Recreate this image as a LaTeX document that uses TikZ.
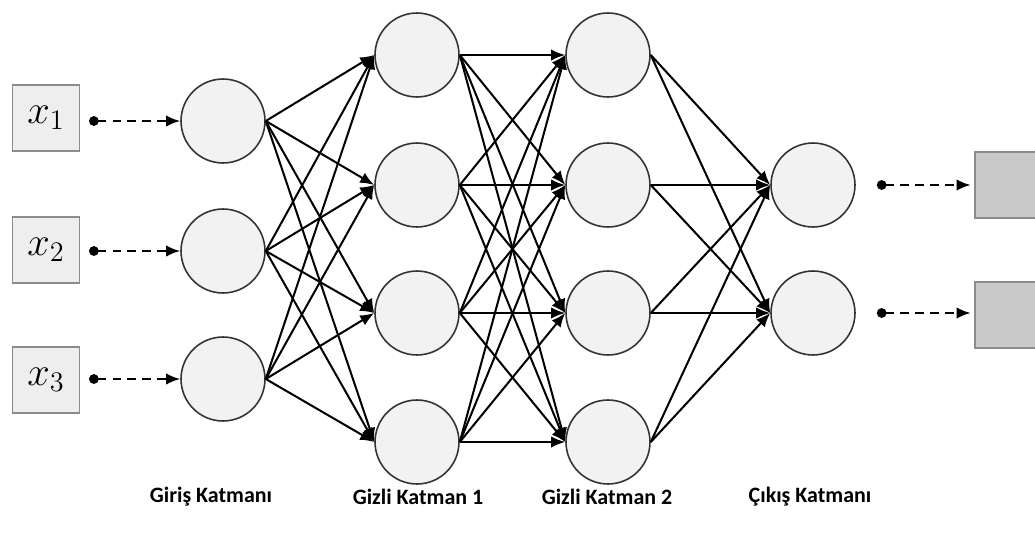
\RequirePackage{fix-cm}
\documentclass[tikz,border=0pt]{standalone}
\usepackage[no-math]{fontspec}
\setmainfont{Carlito}
\usepackage{amsmath}
\usepackage{tikz}
\usetikzlibrary{shapes,arrows.meta,positioning}

\definecolor{nfill}{HTML}{F2F2F2}
\definecolor{inbg}{HTML}{EEEEEE}
\definecolor{outbg}{HTML}{C9C9C9}
\definecolor{boxline}{HTML}{8C8C8C}

\tikzset{
  neuron/.style={circle, draw=black!80, line width=0.9pt, fill=nfill, minimum size=1.68cm, inner sep=0pt},
  inbox/.style={rectangle, draw=boxline, line width=0.9pt, fill=inbg, minimum width=1.34cm, minimum height=1.32cm, inner sep=0pt, font=\fontsize{23}{26}\selectfont},
  outbox/.style={rectangle, draw=boxline, line width=0.9pt, fill=outbg, minimum width=1.6cm, minimum height=1.32cm, inner sep=0pt},
  conn/.style={-{Latex[length=8pt,width=6.5pt]}, line width=1.15pt},
  feed/.style={{Circle[length=5.5pt]}-{Latex[length=8pt,width=6.5pt]}, dash pattern=on 5pt off 3.5pt, line width=1.3pt},
  layername/.style={font=\bfseries\fontsize{12.5}{14}\selectfont}
}

\begin{document}
\begin{tikzpicture}[x=0.02cm, y=-0.02cm]
            \useasboundingbox (0,0) rectangle (1035,534);

            % inputs
            \node[inbox] (x1) at (46,118) {$x_1$};
            \node[inbox] (x2) at (46,250) {$x_2$};
            \node[inbox] (x3) at (46,380) {$x_3$};

            % layers
            \node[neuron] (g1) at (223,121) {};
            \node[neuron] (g2) at (223,251) {};
            \node[neuron] (g3) at (223,379) {};

            \node[neuron] (a1) at (417,55) {};
            \node[neuron] (a2) at (417,185) {};
            \node[neuron] (a3) at (417,313) {};
            \node[neuron] (a4) at (417,442) {};

            \node[neuron] (b1) at (608,55) {};
            \node[neuron] (b2) at (608,185) {};
            \node[neuron] (b3) at (608,313) {};
            \node[neuron] (b4) at (608,442) {};

            \node[neuron] (c1) at (813,185) {};
            \node[neuron] (c2) at (813,313) {};

            % outputs
            \node[outbox] (y1) at (1015,185) {};
            \node[outbox] (y2) at (1015,315) {};

            % weights
            \foreach \i in {1,2,3}
              \foreach \j in {1,2,3,4}
                \draw[conn] (g\i.east) -- (a\j.west);
            \foreach \i in {1,2,3,4}
              \foreach \j in {1,2,3,4}
                \draw[conn] (a\i.east) -- (b\j.west);
            \foreach \i in {1,2,3,4}
              \foreach \j in {1,2}
                \draw[conn] (b\i.east) -- (c\j.west);

            % input and output feeds
            \foreach \i in {1,2,3}
              \draw[feed, shorten <=5pt] (x\i.east |- g\i) -- (g\i.west);
            \foreach \j in {1,2}
              \draw[feed, shorten <=12pt, shorten >=2pt] (c\j.east) -- (y\j.west |- c\j);

            % layer names
            \node[layername] (n1) at (211,497) {Giriş Katmanı};
            \node[layername] (n2) at (418,497) {Gizli Katman 1};
            \node[layername] (n3) at (607,497) {Gizli Katman 2};
            \node[layername] (n4) at (810,497) {Çıkış Katmanı};
        \end{tikzpicture}
\end{document}
